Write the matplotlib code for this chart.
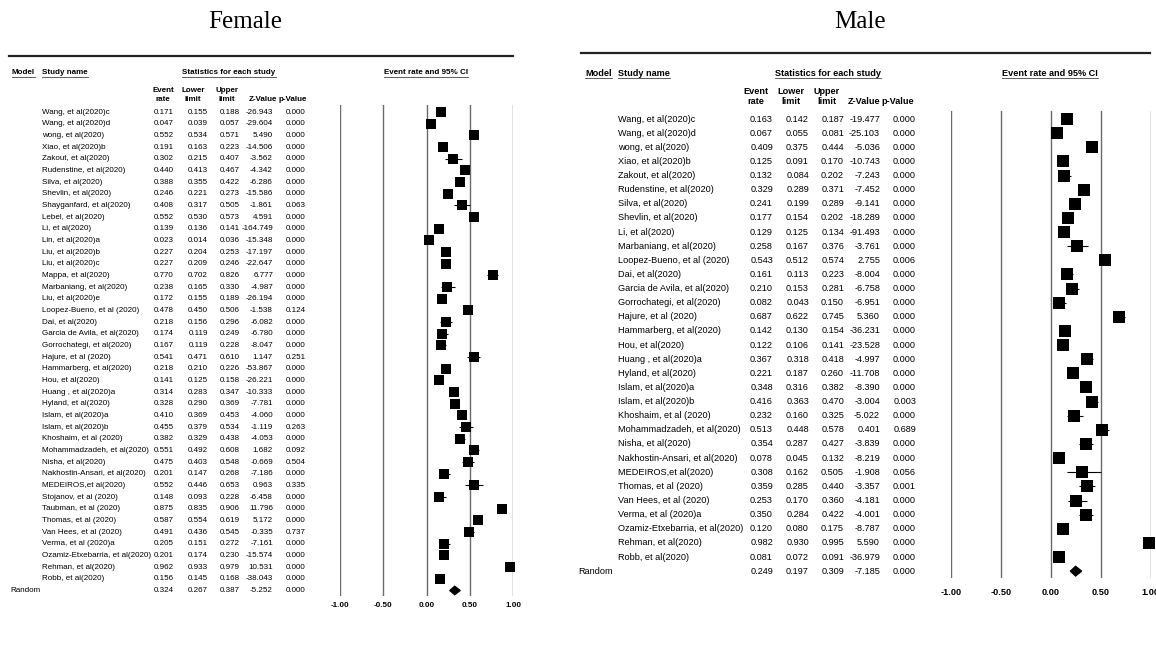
import matplotlib
matplotlib.use('Agg')
import matplotlib.pyplot as plt
import matplotlib.transforms as mtransforms
from matplotlib.lines import Line2D
from matplotlib.patches import Polygon

plt.rcParams['font.family'] = ['Liberation Sans', 'DejaVu Sans']

# %% data -- Female
f_names = ['Wang, et al(2020)c', 'Wang, et al(2020)d', 'wong, et al(2020)', 'Xiao, et al(2020)b',
           'Zakout, et al(2020)', 'Rudenstine, et al(2020)', 'Silva, et al(2020)', 'Shevlin, et al(2020)',
           'Shayganfard, et al(2020)', 'Lebel, et al(2020)', 'Li, et al(2020)', 'Lin, et al(2020)a',
           'Liu, et al(2020)b', 'Liu, et al(2020)c', 'Mappa, et al(2020)', 'Marbaniang, et al(2020)',
           'Liu, et al(2020)e', 'Loopez-Bueno, et al (2020)', 'Dai, et al(2020)', 'Garcia de Avila, et al(2020)',
           'Gorrochategi, et al(2020)', 'Hajure, et al (2020)', 'Hammarberg, et al(2020)', 'Hou, et al(2020)',
           'Huang , et al(2020)a', 'Hyland, et al(2020)', 'Islam, et al(2020)a', 'Islam, et al(2020)b',
           'Khoshaim, et al (2020)', 'Mohammadzadeh, et al(2020)', 'Nisha, et al(2020)',
           'Nakhostin-Ansari, et al(2020)', 'MEDEIROS,et al(2020)', 'Stojanov, et al (2020)',
           'Taubman, et al (2020)', 'Thomas, et al (2020)', 'Van Hees, et al (2020)', 'Verma, et al (2020)a',
           'Ozamiz-Etxebarria, et al(2020)', 'Rehman, et al(2020)', 'Robb, et al(2020)']
f_rate = [0.171, 0.047, 0.552, 0.191, 0.302, 0.440, 0.388, 0.246, 0.408, 0.552, 0.139, 0.023, 0.227, 0.227,
          0.770, 0.238, 0.172, 0.478, 0.218, 0.174, 0.167, 0.541, 0.218, 0.141, 0.314, 0.328, 0.410, 0.455,
          0.382, 0.551, 0.475, 0.201, 0.552, 0.148, 0.875, 0.587, 0.491, 0.205, 0.201, 0.962, 0.156]
f_lower = [0.155, 0.039, 0.534, 0.163, 0.215, 0.413, 0.355, 0.221, 0.317, 0.530, 0.136, 0.014, 0.204, 0.209,
           0.702, 0.165, 0.155, 0.450, 0.156, 0.119, 0.119, 0.471, 0.210, 0.125, 0.283, 0.290, 0.369, 0.379,
           0.329, 0.492, 0.403, 0.147, 0.446, 0.093, 0.835, 0.554, 0.436, 0.151, 0.174, 0.933, 0.145]
f_upper = [0.188, 0.057, 0.571, 0.223, 0.407, 0.467, 0.422, 0.273, 0.505, 0.573, 0.141, 0.036, 0.253, 0.246,
           0.826, 0.330, 0.189, 0.506, 0.296, 0.249, 0.228, 0.610, 0.226, 0.158, 0.347, 0.369, 0.453, 0.534,
           0.438, 0.608, 0.548, 0.268, 0.653, 0.228, 0.906, 0.619, 0.545, 0.272, 0.230, 0.979, 0.168]
f_z = [-26.943, -29.604, 5.490, -14.506, -3.562, -4.342, -6.286, -15.586, -1.861, 4.591, -164.749, -15.348,
       -17.197, -22.647, 6.777, -4.987, -26.194, -1.538, -6.082, -6.780, -8.047, 1.147, -53.867, -26.221,
       -10.333, -7.781, -4.060, -1.119, -4.053, 1.682, -0.669, -7.186, 0.963, -6.458, 11.796, 5.172, -0.335,
       -7.161, -15.574, 10.531, -38.043]
f_p = [0.000, 0.000, 0.000, 0.000, 0.000, 0.000, 0.000, 0.000, 0.063, 0.000, 0.000, 0.000, 0.000, 0.000,
       0.000, 0.000, 0.000, 0.124, 0.000, 0.000, 0.000, 0.251, 0.000, 0.000, 0.000, 0.000, 0.000, 0.263,
       0.000, 0.092, 0.504, 0.000, 0.335, 0.000, 0.000, 0.000, 0.737, 0.000, 0.000, 0.000, 0.000]
f_random = [0.324, 0.267, 0.387, -5.252, 0.000]

# %% data -- Male
m_names = ['Wang, et al(2020)c', 'Wang, et al(2020)d', 'wong, et al(2020)', 'Xiao, et al(2020)b',
           'Zakout, et al(2020)', 'Rudenstine, et al(2020)', 'Silva, et al(2020)', 'Shevlin, et al(2020)',
           'Li, et al(2020)', 'Marbaniang, et al(2020)', 'Loopez-Bueno, et al (2020)', 'Dai, et al(2020)',
           'Garcia de Avila, et al(2020)', 'Gorrochategi, et al(2020)', 'Hajure, et al (2020)',
           'Hammarberg, et al(2020)', 'Hou, et al(2020)', 'Huang , et al(2020)a', 'Hyland, et al(2020)',
           'Islam, et al(2020)a', 'Islam, et al(2020)b', 'Khoshaim, et al (2020)', 'Mohammadzadeh, et al(2020)',
           'Nisha, et al(2020)', 'Nakhostin-Ansari, et al(2020)', 'MEDEIROS,et al(2020)', 'Thomas, et al (2020)',
           'Van Hees, et al (2020)', 'Verma, et al (2020)a', 'Ozamiz-Etxebarria, et al(2020)',
           'Rehman, et al(2020)', 'Robb, et al(2020)']
m_rate = [0.163, 0.067, 0.409, 0.125, 0.132, 0.329, 0.241, 0.177, 0.129, 0.258, 0.543, 0.161, 0.210, 0.082,
          0.687, 0.142, 0.122, 0.367, 0.221, 0.348, 0.416, 0.232, 0.513, 0.354, 0.078, 0.308, 0.359, 0.253,
          0.350, 0.120, 0.982, 0.081]
m_lower = [0.142, 0.055, 0.375, 0.091, 0.084, 0.289, 0.199, 0.154, 0.125, 0.167, 0.512, 0.113, 0.153, 0.043,
           0.622, 0.130, 0.106, 0.318, 0.187, 0.316, 0.363, 0.160, 0.448, 0.287, 0.045, 0.162, 0.285, 0.170,
           0.284, 0.080, 0.930, 0.072]
m_upper = [0.187, 0.081, 0.444, 0.170, 0.202, 0.371, 0.289, 0.202, 0.134, 0.376, 0.574, 0.223, 0.281, 0.150,
           0.745, 0.154, 0.141, 0.418, 0.260, 0.382, 0.470, 0.325, 0.578, 0.427, 0.132, 0.505, 0.440, 0.360,
           0.422, 0.175, 0.995, 0.091]
m_z = [-19.477, -25.103, -5.036, -10.743, -7.243, -7.452, -9.141, -18.289, -91.493, -3.761, 2.755, -8.004,
       -6.758, -6.951, 5.360, -36.231, -23.528, -4.997, -11.708, -8.390, -3.004, -5.022, 0.401, -3.839,
       -8.219, -1.908, -3.357, -4.181, -4.001, -8.787, 5.590, -36.979]
m_p = [0.000, 0.000, 0.000, 0.000, 0.000, 0.000, 0.000, 0.000, 0.000, 0.000, 0.006, 0.000, 0.000, 0.000,
       0.000, 0.000, 0.000, 0.000, 0.000, 0.000, 0.003, 0.000, 0.689, 0.000, 0.000, 0.056, 0.001, 0.000,
       0.000, 0.000, 0.000, 0.000]
m_random = [0.249, 0.197, 0.309, -7.185, 0.000]

ticks = [-1.0, -0.5, 0.0, 0.5, 1.0]
tick_labels = ['-1.00', '-0.50', '0.00', '0.50', '1.00']
col_heads = [('Event', 'rate'), ('Lower', 'limit'), ('Upper', 'limit'), ('', 'Z-Value'), ('', 'p-Value')]

W, H = 1156, 671

# layout of each panel, in pixels of the 1156x671 picture
female_geo = dict(title='Female', title_x=245, title_y=22, rule=(9, 513, 56),
                  head_y=73, model_x=12, study_x=42, stats_x=229, ci_x=426,
                  head_rows=(90, 99.5), head_cx=[163, 193, 227, 263, 293],
                  val_right=[174, 208, 240, 273, 306], name_x=42, random_x=10,
                  row0=112.0, drow=11.67, fx0=340, fx1=513.3, ytop=105, ybot=596,
                  tick_pad=4.5, fs=5.8, sq=10, dia_h=0.36)
male_geo = dict(title='Male', title_x=860, title_y=22, rule=(581, 1150, 53),
                head_y=73, model_x=585, study_x=618, stats_x=828, ci_x=1050,
                head_rows=(92, 102), head_cx=[756, 791, 827, 864, 898],
                val_right=[773, 809, 844, 880, 916], name_x=618, random_x=578,
                row0=119.0, drow=14.13, fx0=950.7, fx1=1150.7, ytop=111, ybot=578,
                tick_pad=7.5, fs=6.6, sq=12, dia_h=0.34)


def fx(x):
    return x / W


def fy(y):
    return 1 - y / H


def draw_panel(fig, g, names, rate, lower, upper, zval, pval, rnd):
    n = len(names)
    row = lambda y: (y - g['row0']) / g['drow']
    ax = fig.add_axes([fx(g['fx0']), fy(g['ybot']), fx(g['fx1'] - g['fx0']),
                       (g['ybot'] - g['ytop']) / H])
    ax.set_xlim(-1, 1)
    ax.set_ylim(row(g['ybot']), row(g['ytop']))
    for s in ax.spines.values():
        s.set_visible(False)
    ax.set_yticks([])
    ax.set_xticks(ticks)
    ax.set_xticklabels(tick_labels, fontweight='bold', fontsize=g['fs'])
    ax.tick_params(axis='x', length=0, pad=g['tick_pad'])
    for t in ticks:
        ax.axvline(t, color='#6a6a6a', lw=1.0, zorder=0)

    rows = list(range(n))
    ax.hlines(rows, lower, upper, color='black', lw=0.8, clip_on=False, zorder=2)
    ax.plot(rate, rows, 's', ms=g['sq'] * 0.72, color='black', mec='black', mew=0,
            clip_on=False, zorder=3)
    r, lo, hi = rnd[0], rnd[1], rnd[2]
    h = g['dia_h']
    ax.add_patch(Polygon([(lo, n), (r, n - h), (hi, n), (r, n + h)], closed=True,
                         color='black', clip_on=False, zorder=3))

    # text table, x in figure fraction, y in row units
    tr = mtransforms.blended_transform_factory(fig.transFigure, ax.transData)
    fs = g['fs']
    for i in range(n):
        ax.text(fx(g['name_x']), i, names[i], transform=tr, ha='left', va='center', fontsize=fs)
        vals = ['%.3f' % rate[i], '%.3f' % lower[i], '%.3f' % upper[i], '%.3f' % zval[i], '%.3f' % pval[i]]
        for xr, v in zip(g['val_right'], vals):
            ax.text(fx(xr), i, v, transform=tr, ha='right', va='center', fontsize=fs)
    ax.text(fx(g['random_x']), n, 'Random', transform=tr, ha='left', va='center', fontsize=fs)
    for xr, v in zip(g['val_right'], rnd):
        ax.text(fx(xr), n, '%.3f' % v, transform=tr, ha='right', va='center', fontsize=fs)

    # headers
    fig.text(fx(g['title_x']), fy(g['title_y']), g['title'], ha='center', va='center',
             fontsize=18, family='Liberation Serif')
    x0, x1, yr = g['rule']
    fig.add_artist(Line2D([fx(x0), fx(x1)], [fy(yr), fy(yr)], color='#222222', lw=1.6,
                          transform=fig.transFigure))
    under = []
    under.append(fig.text(fx(g['model_x']), fy(g['head_y']), 'Model', ha='left', va='center',
                          fontsize=fs, fontweight='bold'))
    under.append(fig.text(fx(g['study_x']), fy(g['head_y']), 'Study name', ha='left', va='center',
                          fontsize=fs, fontweight='bold'))
    under.append(fig.text(fx(g['stats_x']), fy(g['head_y']), 'Statistics for each study', ha='center',
                          va='center', fontsize=fs, fontweight='bold'))
    under.append(fig.text(fx(g['ci_x']), fy(g['head_y']), 'Event rate and 95% CI', ha='center',
                          va='center', fontsize=fs, fontweight='bold'))
    for cx, (t1, t2) in zip(g['head_cx'], col_heads):
        if t1:
            fig.text(fx(cx), fy(g['head_rows'][0]), t1, ha='center', va='center', fontsize=fs,
                     fontweight='bold')
        fig.text(fx(cx), fy(g['head_rows'][1]), t2, ha='center', va='center', fontsize=fs,
                 fontweight='bold')
    return under


fig = plt.figure(figsize=(W / 100, H / 100), dpi=100)
u1 = draw_panel(fig, female_geo, f_names, f_rate, f_lower, f_upper, f_z, f_p, f_random)
u2 = draw_panel(fig, male_geo, m_names, m_rate, m_lower, m_upper, m_z, m_p, m_random)

# underline the bold header words
fig.canvas.draw()
rend = fig.canvas.get_renderer()
for t in u1 + u2:
    bb = t.get_window_extent(rend)
    yy = (bb.y0 - 0.5) / fig.bbox.height
    fig.add_artist(Line2D([bb.x0 / fig.bbox.width, bb.x1 / fig.bbox.width], [yy, yy],
                          color='#444444', lw=0.6, transform=fig.transFigure))

fig.savefig('out.png', dpi=100)
